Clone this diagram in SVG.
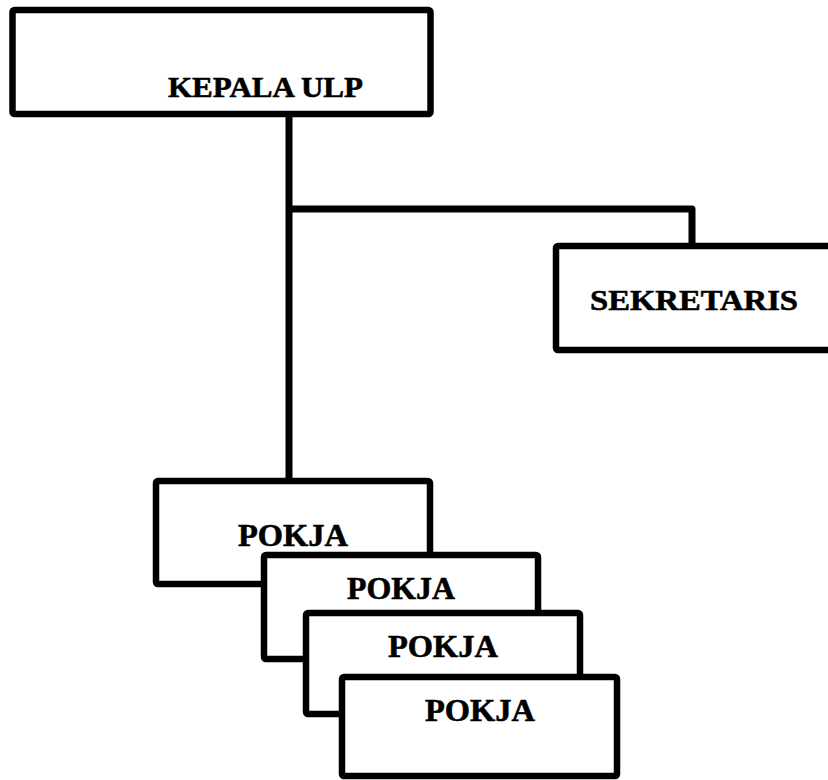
<svg xmlns="http://www.w3.org/2000/svg" width="828" height="780" viewBox="0 0 828 780">
<style>
.box{fill:#fff;stroke:#000;stroke-width:6.5;stroke-linejoin:round}
.lbl{font-family:"Liberation Serif","Times New Roman",serif;font-weight:bold;fill:#000;text-anchor:middle;stroke:#000;stroke-width:0.6}
.con{fill:none;stroke:#000;stroke-width:7;stroke-linejoin:round}
</style>
<rect width="828" height="780" fill="#fff"/>
<g id="connectors">
<path class="con" d="M289 114 V480"/>
<path class="con" d="M289 209 H692 V247"/>
</g>
<g id="kepala">
<rect class="box" x="12.5" y="10" width="418" height="104" rx="2"/>
<text class="lbl" x="265.5" y="97" font-size="29" textLength="195" lengthAdjust="spacingAndGlyphs">KEPALA ULP</text>
</g>
<g id="sekretaris">
<rect class="box" x="556" y="246" width="278" height="104" rx="2"/>
<text class="lbl" x="694" y="310" font-size="30" textLength="208" lengthAdjust="spacingAndGlyphs">SEKRETARIS</text>
</g>
<g id="pokja1">
<rect class="box" x="156" y="481" width="274" height="103" rx="2"/>
<text class="lbl" x="293" y="546" font-size="32" textLength="110" lengthAdjust="spacingAndGlyphs">POKJA</text>
</g>
<g id="pokja2">
<rect class="box" x="264" y="555" width="274" height="104" rx="2"/>
<text class="lbl" x="401" y="599" font-size="32" textLength="108" lengthAdjust="spacingAndGlyphs">POKJA</text>
</g>
<g id="pokja3">
<rect class="box" x="306" y="613" width="274" height="101" rx="2"/>
<text class="lbl" x="443" y="657" font-size="32" textLength="110" lengthAdjust="spacingAndGlyphs">POKJA</text>
</g>
<g id="pokja4">
<rect class="box" x="342" y="677" width="275" height="99" rx="2"/>
<text class="lbl" x="480" y="721" font-size="32" textLength="110" lengthAdjust="spacingAndGlyphs">POKJA</text>
</g>
</svg>
